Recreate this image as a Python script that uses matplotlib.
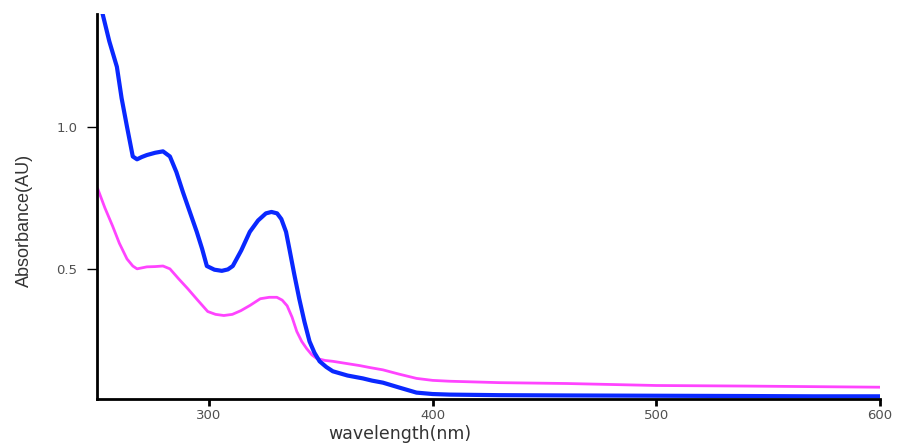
import matplotlib.pyplot as plt

# wavelength (nm) / absorbance (AU)
blue_x = [252.7, 255.5, 258.9, 261.0, 263.4, 266.0, 267.9, 270.0, 272.3, 276.0, 279.5, 282.6,
          285.5, 288.4, 291.5, 294.6, 297.0, 299.1, 302.5, 305.8, 308.5, 310.7, 314.5, 318.3,
          322.0, 325.5, 328.0, 330.5, 332.4, 334.5, 336.0, 338.2, 340.4, 342.7, 345.0, 347.2,
          349.5, 352.5, 355.4, 362.0, 368.8, 373.0, 377.8, 385.0, 392.8, 400.0, 407.6, 430.0,
          460.0, 500.0, 540.0, 570.0, 600.0]
blue_y = [1.39, 1.30, 1.21, 1.10, 1.00, 0.895, 0.885, 0.893, 0.90, 0.908, 0.913, 0.895,
          0.84, 0.77, 0.70, 0.63, 0.57, 0.51, 0.497, 0.493, 0.498, 0.51, 0.565, 0.63,
          0.67, 0.695, 0.70, 0.695, 0.675, 0.63, 0.57, 0.48, 0.395, 0.315, 0.245, 0.205,
          0.175, 0.155, 0.14, 0.125, 0.115, 0.107, 0.10, 0.083, 0.065, 0.06, 0.058, 0.056,
          0.055, 0.054, 0.053, 0.052, 0.052]

pink_x = [250.4, 253.5, 257.0, 260.0, 263.4, 266.0, 267.9, 272.3, 276.0, 279.5, 282.6,
          286.5, 290.6, 295.0, 299.5, 303.0, 306.7, 310.5, 314.3, 318.5, 323.0, 327.0,
          330.4, 332.8, 335.0, 337.2, 339.3, 341.5, 343.7, 346.0, 348.2, 352.0, 355.4,
          361.0, 367.4, 372.0, 377.8, 385.0, 392.8, 400.0, 407.6, 430.0, 460.0, 500.0,
          540.0, 570.0, 600.0]
pink_y = [0.78, 0.715, 0.65, 0.59, 0.535, 0.51, 0.50, 0.507, 0.508, 0.51, 0.50,
          0.465, 0.43, 0.39, 0.35, 0.34, 0.336, 0.34, 0.353, 0.372, 0.395, 0.40,
          0.40, 0.39, 0.37, 0.33, 0.28, 0.245, 0.22, 0.198, 0.185, 0.178, 0.175,
          0.168, 0.16, 0.153, 0.145, 0.13, 0.115, 0.108, 0.105, 0.10, 0.097, 0.09,
          0.088, 0.086, 0.084]

fig = plt.figure(figsize=(8.98, 4.44), dpi=100)
ax = fig.add_axes([0.108, 0.101, 0.872, 0.867])

ax.plot(pink_x, pink_y, color="#ff44ff", lw=2.0)
ax.plot(blue_x, blue_y, color="#0a28ff", lw=3.0)

ax.set_xlim(250, 600)
ax.set_ylim(0.042, 1.395)
ax.set_xticks([300, 400, 500, 600])
ax.set_yticks([0.5, 1.0])
ax.set_yticklabels(["0.5", "1.0"])

for side in ["top", "right"]:
    ax.spines[side].set_visible(False)
for side in ["left", "bottom"]:
    ax.spines[side].set_linewidth(2)
ax.tick_params(axis="x", direction="out", length=5, width=2, labelsize=9.5,
               labelcolor="#505050", pad=2)
ax.tick_params(axis="y", direction="out", length=7, width=1, labelsize=9.5,
               labelcolor="#505050", pad=7)

ax.set_xlabel("wavelength(nm)", fontsize=12.5, color="#333333")
ax.xaxis.set_label_coords(0.387, -0.068)
ax.set_ylabel("Absorbance(AU)", fontsize=13, color="#333333", family="Liberation Sans")
ax.yaxis.set_label_coords(-0.082, 0.465)

plt.savefig("out.png", dpi=100)
